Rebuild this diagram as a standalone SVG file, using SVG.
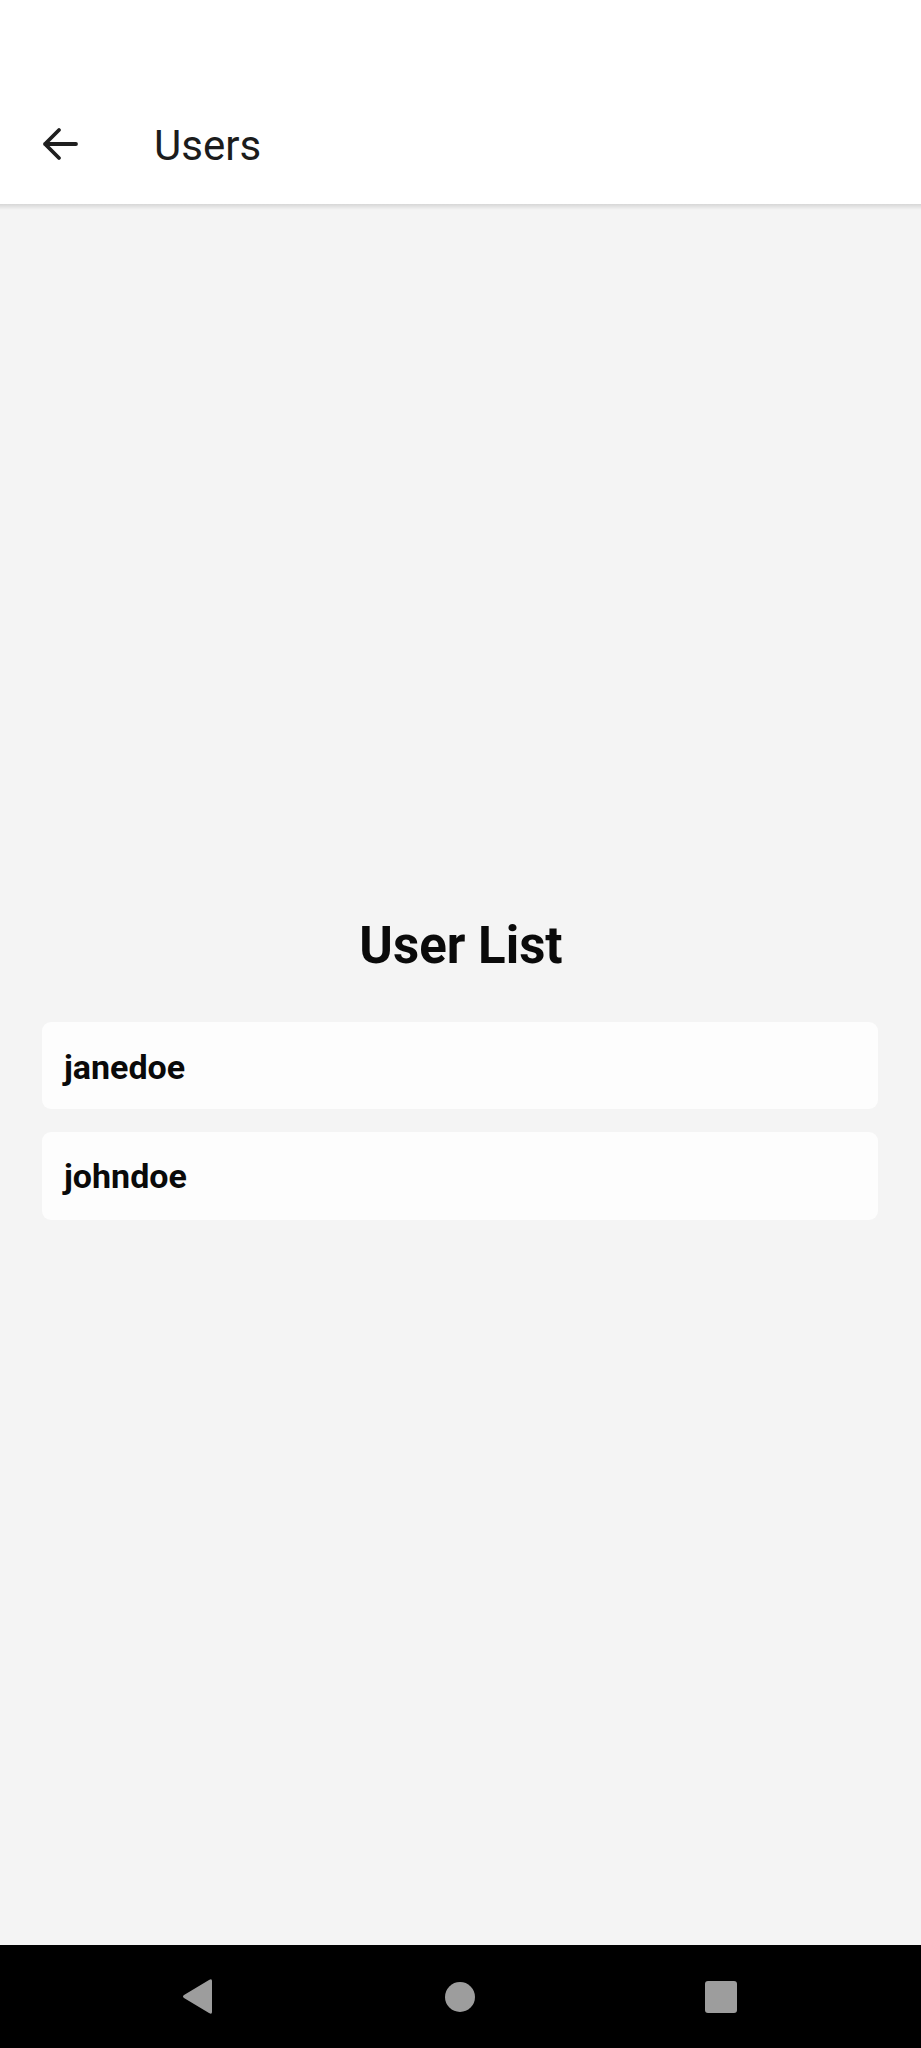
<svg xmlns="http://www.w3.org/2000/svg" width="921" height="2048" viewBox="0 0 921 2048">
  <defs>
    <style>
      .title { font-family: Roboto, "Liberation Sans", sans-serif; font-size: 42px; font-weight: normal; fill: #1c1c1c; }
      .heading { font-family: Roboto, "Liberation Sans", sans-serif; font-size: 51px; font-weight: bold; fill: #0a0a0a; }
      .item { font-family: Roboto, "Liberation Sans", sans-serif; font-size: 34px; font-weight: bold; fill: #0a0a0a; }
      .card { fill: #fdfdfd; }
      .navicon { fill: #9d9d9d; }
    </style>
    <linearGradient id="shadow" x1="0" y1="0" x2="0" y2="1">
      <stop offset="0" stop-color="#000" stop-opacity="0.12"/>
      <stop offset="1" stop-color="#000" stop-opacity="0"/>
    </linearGradient>
  </defs>
  <rect x="0" y="0" width="921" height="2048" fill="#f4f4f4"/>
  <g id="appbar">
    <rect x="0" y="204" width="921" height="6" fill="url(#shadow)"/>
    <rect x="0" y="0" width="921" height="204" fill="#ffffff"/>
    <path d="M76 144 H45 M59 130 L45 144 L59 158" fill="none" stroke="#1f1f1f" stroke-width="3.8" stroke-linecap="round" stroke-linejoin="round"/>
    <text class="title" x="154" y="160">Users</text>
  </g>
  <g id="heading">
    <text class="heading" x="461" y="963" text-anchor="middle">User List</text>
  </g>
  <g id="card-janedoe">
    <rect class="card" x="42" y="1022" width="836" height="87" rx="9"/>
    <text class="item" x="64" y="1079">janedoe</text>
  </g>
  <g id="card-johndoe">
    <rect class="card" x="42" y="1132" width="836" height="88" rx="9"/>
    <text class="item" x="64" y="1188">johndoe</text>
  </g>
  <g id="navbar">
    <rect x="0" y="1945" width="921" height="103" fill="#000000"/>
    <path class="navicon" d="M212 1981 L212 2012 Q212 2015 209 2013 L184 1998 Q182 1996.5 184 1995 L209 1980 Q212 1978 212 1981 Z"/>
    <circle class="navicon" cx="460" cy="1997" r="15"/>
    <rect class="navicon" x="705" y="1981" width="32" height="32" rx="3"/>
  </g>
  <g id="connectors"/>
</svg>
